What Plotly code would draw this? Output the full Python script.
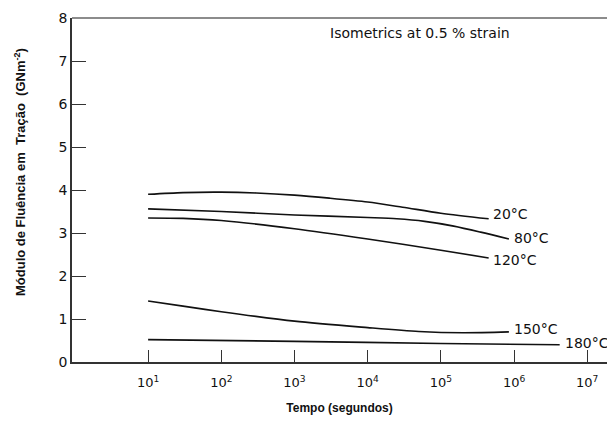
import math
import plotly.graph_objects as go

# Creep isometrics: tensile creep modulus (GN/m^2) versus time (s)
t_20 = [1e1, 3e1, 1e2, 3e2, 1e3, 3e3, 1e4, 3e4, 1e5, 4.5e5]
e_20 = [3.90, 3.94, 3.95, 3.93, 3.88, 3.81, 3.72, 3.60, 3.46, 3.33]

t_80 = [1e1, 1e2, 1e3, 1e4, 2.5e4, 6e4, 1.5e5, 3.5e5, 8.5e5]
e_80 = [3.56, 3.50, 3.42, 3.36, 3.33, 3.27, 3.16, 3.02, 2.86]

t_120 = [1e1, 3e1, 1e2, 1e3, 1e4, 1e5, 4.5e5]
e_120 = [3.35, 3.34, 3.29, 3.10, 2.86, 2.60, 2.42]

t_150 = [1e1, 3e1, 1e2, 1e3, 1e4, 5e4, 2e5, 8.5e5]
e_150 = [1.42, 1.30, 1.17, 0.95, 0.80, 0.71, 0.68, 0.70]

t_180 = [1e1, 1e3, 1e5, 4.2e6]
e_180 = [0.52, 0.48, 0.43, 0.40]

# (label, times, moduli, label time, label modulus)
series = [
    ("20°C", t_20, e_20, 4.9e5, 3.44),
    ("80°C", t_80, e_80, 9.5e5, 2.88),
    ("120°C", t_120, e_120, 4.8e5, 2.37),
    ("150°C", t_150, e_150, 9.5e5, 0.77),
    ("180°C", t_180, e_180, 4.6e6, 0.44),
]

x_tick_vals = [1e1, 1e2, 1e3, 1e4, 1e5, 1e6, 1e7]
x_tick_text = ["10<sup>1</sup>", "10<sup>2</sup>", "10<sup>3</sup>", "10<sup>4</sup>",
               "10<sup>5</sup>", "10<sup>6</sup>", "10<sup>7</sup>"]
y_tick_vals = [0, 1, 2, 3, 4, 5, 6, 7, 8]

FONT = "DejaVu Sans"
AXFONT = "Liberation Sans"

fig = go.Figure()
for name, t, e, lx, ly in series:
    fig.add_trace(go.Scatter(
        x=t, y=e, mode="lines", name=name,
        line=dict(color="#111111", width=1.6, shape="spline", smoothing=0.8),
        showlegend=False, hoverinfo="skip",
    ))
    fig.add_annotation(
        x=math.log10(lx), y=ly, xref="x", yref="y", text=name, showarrow=False,
        xanchor="left", yanchor="middle",
        font=dict(family=FONT, size=14, color="#111111"),
    )

fig.add_annotation(
    x=0.65, y=0.955, xref="paper", yref="paper",
    text="Isometrics at 0.5 % strain", showarrow=False,
    xanchor="center", yanchor="middle",
    font=dict(family=FONT, size=14, color="#111111"),
)

# y-axis title placed as a rotated annotation
fig.add_annotation(
    x=20, y=172, xref="paper", yref="paper", text="<b>Módulo de Fluência em  Tração  (GNm<sup>-2</sup>)</b>",
    showarrow=False, textangle=-90, xanchor="center", yanchor="middle",
    font=dict(family=AXFONT, size=13, color="#111111"),
)

# top frame line
fig.add_shape(type="line", xref="paper", yref="paper", x0=0, x1=1, y0=1, y1=1,
              line=dict(color="#666666", width=1.5))

fig.update_xaxes(
    type="log", range=[-0.04, 7.27],
    tickvals=x_tick_vals, ticktext=x_tick_text,
    ticks="inside", ticklen=12, tickwidth=1.2, tickcolor="#333333",
    showline=True, linecolor="#333333", linewidth=1.5,
    showgrid=False, zeroline=False, ticklabelstandoff=8,
    tickfont=dict(family=FONT, size=13, color="#111111"),
    title=dict(text="<b>Tempo (segundos)</b>", standoff=14,
               font=dict(family=AXFONT, size=12, color="#111111")),
)
fig.update_yaxes(
    range=[0, 8], tickvals=y_tick_vals,
    ticks="inside", ticklen=14, tickwidth=1.2, tickcolor="#333333",
    showline=True, linecolor="#333333", linewidth=1.5,
    showgrid=False, zeroline=False,
    tickfont=dict(family=FONT, size=14, color="#111111"),
)

fig.update_layout(
    width=607, height=421,
    margin=dict(l=72, r=0, t=18, b=59),
    paper_bgcolor="white", plot_bgcolor="white",
)

# convert the y-title pixel position into paper coordinates
plot_w = 607 - 72
plot_h = 421 - 18 - 59
ann = fig.layout.annotations[-1]
ann.x = (20 - 72) / plot_w
ann.y = (421 - 59 - 172) / plot_h

fig.write_html("out.html")
